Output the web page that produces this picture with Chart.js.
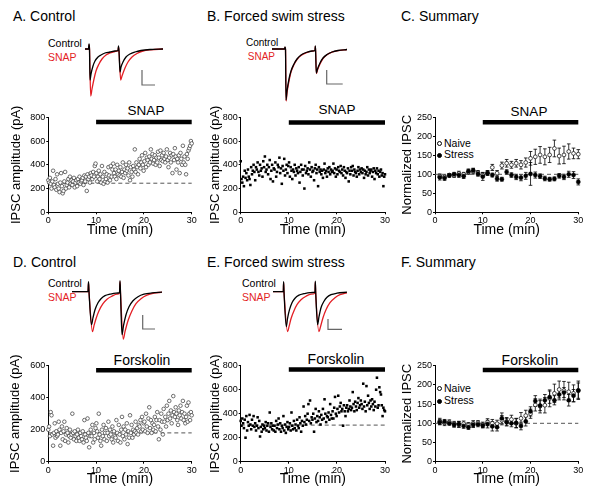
<!DOCTYPE html>
<html>
<head>
<meta charset="utf-8">
<script src="https://cdn.jsdelivr.net/npm/chart.js@4.4.1/dist/chart.umd.min.js"></script>
<style>
  body { margin: 0; background: #fff; width: 600px; height: 496px; position: relative; overflow: hidden;
         font-family: "Liberation Sans", Arial, sans-serif; }
  canvas { position: absolute; }
  .t { position: absolute; white-space: nowrap; line-height: 1; color: #000; }
  .title { font-size: 14px; }
  .small { font-size: 10.5px; }
  .red { color: #e31e24; }
  .drug { font-size: 13.5px; transform: translateX(-50%); }
  .sym { position: absolute; width: 3.2px; height: 3.2px; border-radius: 50%; border: 0.8px solid #000; }
</style>
</head>
<body>

<div class="t title" style="left:13px;top:9px">A. Control</div>
<div class="t title" style="left:207px;top:9px">B. Forced swim stress</div>
<div class="t title" style="left:401px;top:9px">C. Summary</div>
<div class="t title" style="left:13px;top:255px">D. Control</div>
<div class="t title" style="left:207px;top:255px">E. Forced swim stress</div>
<div class="t title" style="left:401px;top:255px">F. Summary</div>

<div class="t small" style="left:48px;top:38px">Control</div>
<div class="t small red" style="left:48px;top:51.5px">SNAP</div>
<div class="t small" style="left:246px;top:38px;width:30px;text-align:right;font-size:10px">Control</div>
<div class="t small red" style="left:246px;top:51.5px;width:29px;text-align:right;font-size:10px">SNAP</div>
<div class="t small" style="left:48px;top:278px">Control</div>
<div class="t small red" style="left:48px;top:291.5px">SNAP</div>
<div class="t small" style="left:242px;top:278px">Control</div>
<div class="t small red" style="left:242px;top:291.5px">SNAP</div>

<div class="t drug" style="left:146px;top:104px">SNAP</div>
<div class="t drug" style="left:337px;top:103px">SNAP</div>
<div class="t drug" style="left:529px;top:104.5px">SNAP</div>
<div class="t drug" style="left:142px;top:353px;font-size:14px">Forskolin</div>
<div class="t drug" style="left:336px;top:352px;font-size:14px">Forskolin</div>
<div class="t drug" style="left:530px;top:353px;font-size:14px">Forskolin</div>

<div class="sym" style="left:436.5px;top:141px;background:#fff"></div>
<div class="t small" style="left:444px;top:137.5px">Naive</div>
<div class="sym" style="left:436.5px;top:152.5px;background:#000"></div>
<div class="t small" style="left:444px;top:149px">Stress</div>
<div class="sym" style="left:436.5px;top:386px;background:#fff"></div>
<div class="t small" style="left:444px;top:382.5px">Naive</div>
<div class="sym" style="left:436.5px;top:398.5px;background:#000"></div>
<div class="t small" style="left:444px;top:395px">Stress</div>

<script>
// IPSC amplitudes (pA), six sweeps per minute over 30 min
const snapControlAmp = [
  270, 250, 290, 240, 200, 260, 350, 230, 210, 280, 190, 320,
  240, 200, 170, 250, 330, 220, 160, 180, 260, 340, 200, 230,
  250, 280, 210, 300, 240, 270, 230, 260, 290, 210, 250, 270,
  220, 280, 250, 300, 240, 260, 270, 290, 230, 310, 260, 300,
  180, 320, 280, 300, 250, 330, 310, 280, 340, 300, 390, 410,
  330, 260, 300, 350, 280, 320, 250, 390, 300, 240, 340, 260,
  280, 320, 250, 380, 310, 270, 390, 300, 360, 410, 330, 300,
  360, 280, 400, 320, 350, 310, 380, 300, 340, 420, 290, 360,
  330, 400, 350, 370, 310, 420, 270, 380, 340, 300, 390, 360,
  530, 340, 420, 380, 320, 400, 450, 370, 420, 480, 400, 350,
  430, 500, 380, 460, 440, 400, 470, 420, 530, 450, 490, 410,
  440, 480, 400, 460, 420, 510, 460, 390, 520, 440, 480, 430,
  500, 450, 420, 470, 530, 440, 380, 460, 500, 420, 480, 330,
  490, 440, 540, 470, 360, 450, 420, 480, 330, 500, 450, 400,
  560, 420, 470, 400, 320, 490, 450, 520, 540, 560, 600, 580
];
const snapStressAmp = [
  430, 280, 250, 300, 220, 350, 290, 330, 270, 360, 300, 280,
  230, 380, 320, 350, 400, 340, 270, 380, 360, 420, 340, 310,
  400, 350, 370, 300, 430, 380, 470, 340, 360, 400, 320, 380,
  440, 280, 350, 400, 260, 370, 360, 420, 300, 340, 400, 380,
  460, 330, 370, 240, 390, 350, 450, 310, 360, 400, 330, 390,
  420, 300, 380, 350, 280, 360, 340, 400, 310, 370, 350, 330,
  380, 250, 340, 400, 360, 310, 360, 200, 390, 330, 350, 370,
  320, 420, 360, 300, 380, 340, 350, 270, 370, 400, 330, 360,
  220, 380, 340, 360, 320, 350, 290, 360, 410, 330, 350, 300,
  370, 340, 380, 320, 360, 340, 350, 410, 330, 370, 300, 360,
  320, 380, 350, 340, 390, 330, 360, 310, 380, 350, 290, 340,
  330, 370, 260, 350, 320, 380, 350, 390, 310, 360, 340, 330,
  300, 350, 380, 320, 360, 340, 370, 330, 360, 290, 350, 320,
  340, 380, 310, 360, 330, 350, 360, 300, 340, 370, 280, 350,
  330, 370, 320, 350, 300, 340, 360, 310, 330, 220, 300, 320
];
const fskControlAmp = [
  200, 220, 160, 310, 290, 170, 100, 180, 240, 150, 190, 160,
  170, 250, 200, 100, 180, 220, 140, 190, 250, 130, 170, 210,
  180, 120, 160, 200, 150, 170, 300, 180, 140, 190, 160, 130,
  170, 200, 150, 130, 180, 160, 140, 190, 120, 260, 170, 150,
  130, 270, 180, 90, 160, 200, 160, 230, 120, 180, 140, 210,
  240, 190, 150, 300, 170, 130, 100, 200, 160, 230, 140, 180,
  210, 130, 180, 250, 160, 200, 170, 140, 220, 120, 190, 160,
  150, 260, 180, 130, 230, 170, 120, 200, 280, 160, 220, 140,
  200, 170, 240, 110, 190, 150, 290, 180, 230, 150, 200, 170,
  190, 250, 180, 210, 170, 230, 220, 260, 190, 280, 200, 240,
  250, 190, 300, 220, 180, 270, 340, 210, 260, 180, 240, 200,
  230, 280, 190, 260, 310, 220, 140, 260, 200, 300, 250, 170,
  330, 250, 280, 220, 350, 260, 300, 380, 270, 320, 240, 290,
  410, 310, 280, 340, 300, 260, 230, 320, 290, 350, 270, 310,
  380, 260, 300, 240, 280, 350, 250, 370, 300, 260, 310, 290
];
const fskStressAmp = [
  340, 300, 360, 320, 280, 350, 200, 380, 260, 330, 300, 390,
  310, 270, 350, 300, 380, 290, 320, 260, 300, 370, 280, 340,
  210, 290, 250, 310, 270, 300, 280, 330, 260, 300, 320, 250,
  410, 290, 320, 270, 300, 260, 300, 250, 340, 280, 310, 360,
  270, 320, 250, 300, 280, 380, 260, 310, 240, 290, 330, 270,
  290, 320, 260, 410, 300, 270, 340, 280, 310, 260, 350, 300,
  280, 370, 320, 250, 340, 300, 460, 330, 380, 310, 350, 400,
  480, 340, 510, 320, 370, 350, 400, 250, 360, 440, 330, 380,
  340, 420, 370, 310, 390, 350, 440, 360, 520, 400, 330, 380,
  370, 410, 350, 480, 390, 360, 420, 360, 450, 540, 400, 380,
  440, 550, 410, 460, 490, 420, 440, 300, 470, 420, 380, 450,
  470, 420, 440, 510, 460, 430, 450, 580, 480, 420, 500, 460,
  430, 490, 530, 450, 470, 510, 480, 440, 650, 460, 500, 420,
  630, 470, 550, 490, 440, 510, 460, 520, 480, 430, 500, 460,
  600, 700, 450, 470, 620, 580, 560, 470, 380, 450, 430, 420
];

// normalized IPSC (%), one value per minute
const summaryMinutes = [1, 2, 3, 4, 5, 6, 7, 8, 9, 10, 11, 12, 13, 14, 15,
                        16, 17, 18, 19, 20, 21, 22, 23, 24, 25, 26, 27, 28, 29, 30];
const snapNaiveMean = [95, 93, 98, 97, 102, 100, 106, 108, 104, 98, 104, 118, 103, 123, 129,
                       125, 129, 125, 131, 142, 146, 151, 146, 151, 168, 148, 151, 160, 155, 153];
const snapNaiveSem = [6, 5, 4, 5, 6, 5, 6, 7, 6, 7, 6, 8, 7, 9, 10,
                      9, 10, 11, 12, 18, 20, 22, 21, 20, 22, 21, 23, 20, 14, 12];
const snapStressMean = [92, 90, 97, 100, 98, 95, 108, 110, 101, 94, 103, 98, 88, 87, 106,
                        98, 93, 91, 96, 101, 98, 95, 89, 87, 88, 96, 93, 100, 98, 80];
const snapStressSem = [7, 6, 5, 5, 6, 6, 6, 6, 6, 10, 6, 5, 6, 5, 6,
                       6, 7, 8, 9, 30, 8, 6, 6, 5, 5, 6, 7, 8, 9, 8];
const fskNaiveMean = [105, 101, 103, 98, 97, 99, 95, 99, 101, 96, 103, 100, 99, 108, 105,
                      110, 100, 113, 120, 125, 148, 145, 147, 165, 178, 188, 185, 182, 178, 186];
const fskNaiveSem = [8, 7, 6, 7, 8, 7, 7, 8, 6, 7, 9, 10, 9, 12, 10,
                     11, 12, 15, 14, 12, 16, 18, 20, 22, 24, 22, 24, 25, 22, 24];
const fskStressMean = [103, 104, 100, 96, 98, 93, 90, 96, 97, 94, 98, 92, 90, 113, 103,
                       100, 101, 93, 105, 131, 158, 146, 160, 168, 160, 175, 180, 160, 172, 185];
const fskStressSem = [7, 6, 5, 6, 7, 6, 6, 7, 6, 6, 10, 12, 10, 14, 10,
                      9, 12, 10, 12, 12, 14, 13, 15, 16, 12, 14, 13, 15, 16, 20];

// example traces, [ms, pA]
const traceAControl = [[0,0],[3.5,0],[4,50],[4.5,0],[5,-310],[6,-250],[8,-170],[10,-120],[13,-80],[16,-60],[20,-40],[25,-30],[30,-20],[33,-15],[33.5,30],[34,-20],[35,-230],[36,-180],[38,-130],[41,-80],[45,-50],[50,-30],[56,-15],[65,-5],[78,0]];
const traceASnap = [[0,0],[3.5,0],[4,40],[4.5,0],[5.7,-470],[7,-400],[9,-300],[11,-220],[14,-150],[17,-100],[21,-60],[25,-40],[30,-25],[33,-15],[33.5,20],[34,-20],[35.7,-310],[37,-270],[40,-190],[43,-130],[47,-80],[52,-45],[58,-20],[66,-8],[78,0]];
const traceBControl = [[0,0],[12.5,0],[13,20],[13.5,0],[14,-510],[15,-420],[17,-300],[19,-220],[22,-150],[25,-100],[29,-60],[34,-35],[40,-20],[43,-15],[43.3,30],[43.6,-15],[44.3,-240],[45.5,-200],[48,-140],[51,-90],[55,-55],[60,-30],[66,-15],[75,-5]];
const traceBSnap = [[0,0],[12.5,0],[13,15],[13.5,0],[14.1,-520],[15,-440],[17,-320],[19,-230],[22,-155],[25,-105],[29,-65],[34,-38],[40,-22],[43,-15],[43.3,25],[43.6,-15],[44.4,-245],[45.5,-210],[48,-150],[51,-95],[55,-58],[60,-32],[66,-16],[75,-5]];
const traceDControl = [[0,0],[16,0],[16.5,100],[17,0],[19.5,-330],[21,-260],[23,-180],[26,-110],[29,-70],[33,-40],[38,-25],[44,-15],[47.5,-10],[48,110],[48.5,-10],[50,-430],[51.5,-340],[54,-230],[57,-150],[61,-90],[66,-50],[72,-25],[80,-12],[90,-5]];
const traceDSnap = [[0,0],[16,0],[16.5,90],[17,0],[20.5,-400],[22,-340],[24,-270],[27,-190],[31,-120],[35,-75],[40,-45],[45,-25],[47.5,-15],[48,100],[48.5,-15],[51.3,-475],[53,-400],[56,-290],[60,-190],[64,-120],[69,-70],[75,-35],[82,-15],[90,-5]];
const traceEControl = [[0,0],[10.3,0],[10.6,100],[11,0],[13.3,-350],[14.5,-270],[16.5,-180],[19,-110],[22,-65],[26,-35],[31,-20],[37,-10],[42,-5],[42.3,105],[42.7,-5],[44.6,-330],[46,-250],[48,-160],[51,-95],[54,-55],[58,-30],[64,-15],[74,-5]];
const traceESnap = [[0,0],[10.3,0],[10.6,90],[11,0],[14.6,-400],[16,-350],[18,-270],[21,-190],[24,-130],[28,-80],[33,-45],[38,-25],[42,-15],[42.3,95],[42.7,-15],[46,-400],[47.5,-350],[50,-260],[53,-180],[57,-110],[62,-60],[67,-30],[74,-10]];
// scale bars, [ms, pA]
const scaleBarA = [[70,-360],[57,-360],[57,-210]];
const scaleBarB = [[70.7,-350],[54.7,-350],[54.7,-210]];
const scaleBarD = [[83,-373],[70.7,-373],[70.7,-233]];
const scaleBarE = [[69,-376],[55,-376],[55,-273]];

const RED = '#e31e24';
Chart.defaults.font.family = '"Liberation Sans", Arial, sans-serif';
Chart.defaults.color = '#000';

function sweepPoints(values) {
    // sweeps evenly spread over the 30 min recording
    return values.map((v, i) => ({ x: i * 30 / (values.length - 1), y: v }));
}
function minutePoints(values) {
    return values.map((v, i) => ({ x: summaryMinutes[i], y: v }));
}
function pairPoints(pairs) {
    return pairs.map(p => ({ x: p[0], y: p[1] }));
}

const errorBarPlugin = {
    id: 'errorBars',
    beforeDatasetsDraw(chart) {
        const ctx = chart.ctx;
        const xs = chart.scales.x, ys = chart.scales.y;
        chart.data.datasets.forEach(ds => {
            if (!ds.errorBars) return;
            ctx.save();
            ctx.strokeStyle = '#000';
            ctx.lineWidth = 0.8;
            ds.data.forEach((p, i) => {
                const e = ds.errorBars[i];
                const px = xs.getPixelForValue(p.x);
                const top = ys.getPixelForValue(p.y + e);
                const bot = ys.getPixelForValue(p.y - e);
                ctx.beginPath();
                ctx.moveTo(px, top); ctx.lineTo(px, bot);
                ctx.moveTo(px - 1.8, top); ctx.lineTo(px + 1.8, top);
                ctx.moveTo(px - 1.8, bot); ctx.lineTo(px + 1.8, bot);
                ctx.stroke();
            });
            ctx.restore();
        });
    }
};

function addCanvas(left, top, width, height) {
    const c = document.createElement('canvas');
    c.width = width;
    c.height = height;
    c.style.left = left + 'px';
    c.style.top = top + 'px';
    document.body.appendChild(c);
    return c;
}

function lineSet(y, level, width, dash) {
    return {
        data: [{ x: y[0], y: level }, { x: y[1], y: level }],
        showLine: true, pointRadius: 0, borderColor: dash ? '#555' : '#000',
        borderWidth: width, borderDash: dash || [], borderCapStyle: 'butt', clip: false, order: 5
    };
}

function makePanel(p) {
    const canvas = addCanvas(p.left, p.top, p.width, p.height);
    const area = p.area;
    const yW = area.l - p.left;
    const xH = p.top + p.height - area.b;
    const axisGrid = { drawOnChartArea: false, drawTicks: true, tickLength: 2, color: '#000', lineWidth: 1 };
    new Chart(canvas, {
        type: 'scatter',
        data: { datasets: p.datasets },
        options: {
            responsive: false,
            animation: false,
            events: [],
            layout: { padding: { left: 0, top: area.t - p.top, right: p.left + p.width - area.r, bottom: 0 } },
            plugins: { legend: { display: false }, tooltip: { enabled: false } },
            scales: {
                x: {
                    type: 'linear', min: 0, max: 30,
                    afterFit: s => { s.height = xH; },
                    ticks: { stepSize: 10, font: { size: 9 }, padding: 1, maxRotation: 0 },
                    grid: axisGrid,
                    border: { color: '#000', width: 1 },
                    title: { display: true, text: 'Time (min)', font: { size: 14 }, padding: { top: 0, bottom: p.xTitlePad } }
                },
                y: {
                    min: 0, max: p.yMax,
                    afterFit: s => { s.width = yW; },
                    ticks: { stepSize: p.yStep, font: { size: 9 }, padding: 1 },
                    grid: axisGrid,
                    border: { color: '#000', width: 1 },
                    title: { display: true, text: p.yTitle, font: { size: 13 }, padding: { top: p.yTitlePad, bottom: 0 } }
                }
            }
        },
        plugins: [errorBarPlugin]
    });
}

function makeTrace(t) {
    const canvas = addCanvas(t.left, t.top, t.width, t.height);
    const trace = (pairs, color) => ({
        data: pairPoints(pairs), showLine: true, pointRadius: 0, borderColor: color,
        borderWidth: 1.3, cubicInterpolationMode: 'monotone', clip: false
    });
    new Chart(canvas, {
        type: 'scatter',
        data: {
            datasets: [
                trace(t.control, '#000'),
                trace(t.snap, RED),
                { data: pairPoints(t.bar), showLine: true, pointRadius: 0, borderColor: '#666', borderWidth: 1.2, clip: false }
            ]
        },
        options: {
            responsive: false, animation: false, events: [],
            layout: { padding: 0 },
            plugins: { legend: { display: false }, tooltip: { enabled: false } },
            scales: {
                x: { type: 'linear', display: false, min: 0, max: t.xMax },
                y: { display: false, min: t.yMin, max: t.yMax }
            }
        }
    });
}

const openCircle = { pointStyle: 'circle', pointRadius: 1.8, pointBackgroundColor: '#fff', pointBorderColor: '#333', pointBorderWidth: 0.7, clip: false, order: 1 };
const filledSquare = { pointStyle: 'rect', pointRadius: 1.8, pointBackgroundColor: '#000', pointBorderWidth: 0, clip: false, order: 1 };
const naiveStyle = { pointStyle: 'circle', pointRadius: 1.9, pointBackgroundColor: '#fff', pointBorderColor: '#000', pointBorderWidth: 0.7, clip: false, order: 2 };
const stressStyle = { pointStyle: 'circle', pointRadius: 2.1, pointBackgroundColor: '#000', pointBorderColor: '#000', pointBorderWidth: 0.4, clip: false, order: 1 };

// A. Control, SNAP
makePanel({
    left: 0, top: 95, width: 200, height: 150,
    area: { l: 48.3, r: 191.7, t: 117.3, b: 212.3 },
    yMax: 800, yStep: 200, yTitle: 'IPSC amplitude (pA)', yTitlePad: 8.5, xTitlePad: 6.6,
    datasets: [
        lineSet([10, 30], 760, 4.5),
        lineSet([0, 30], 245, 1, [4, 3]),
        Object.assign({ data: sweepPoints(snapControlAmp) }, openCircle)
    ]
});
// B. Forced swim stress, SNAP
makePanel({
    left: 200, top: 95, width: 200, height: 150,
    area: { l: 240.7, r: 385, t: 117.3, b: 212.3 },
    yMax: 800, yStep: 200, yTitle: 'IPSC amplitude (pA)', yTitlePad: 7.2, xTitlePad: 6.6,
    datasets: [
        lineSet([10, 30], 757, 4.5),
        Object.assign({ data: sweepPoints(snapStressAmp) }, filledSquare)
    ]
});
// C. Summary, SNAP
makePanel({
    left: 390, top: 95, width: 210, height: 150,
    area: { l: 435, r: 578.3, t: 117.3, b: 212.3 },
    yMax: 250, yStep: 50, yTitle: 'Normalized IPSC', yTitlePad: 9.7, xTitlePad: 6.6,
    datasets: [
        lineSet([10, 30], 237, 4.5),
        lineSet([0, 30], 100, 1, [4, 3]),
        Object.assign({ data: minutePoints(snapNaiveMean), errorBars: snapNaiveSem }, naiveStyle),
        Object.assign({ data: minutePoints(snapStressMean), errorBars: snapStressSem }, stressStyle)
    ]
});
// D. Control, Forskolin
makePanel({
    left: 0, top: 345, width: 200, height: 150,
    area: { l: 48.3, r: 191.7, t: 365.7, b: 461.7 },
    yMax: 600, yStep: 200, yTitle: 'IPSC amplitude (pA)', yTitlePad: 7.5, xTitlePad: 7.1,
    datasets: [
        lineSet([10, 30], 571, 4.5),
        lineSet([0, 30], 180, 1, [4, 3]),
        Object.assign({ data: sweepPoints(fskControlAmp) }, openCircle)
    ]
});
// E. Forced swim stress, Forskolin
makePanel({
    left: 200, top: 345, width: 200, height: 150,
    area: { l: 240.7, r: 385, t: 365.7, b: 461.7 },
    yMax: 800, yStep: 200, yTitle: 'IPSC amplitude (pA)', yTitlePad: 7.2, xTitlePad: 7.1,
    datasets: [
        lineSet([10, 30], 768, 4.5),
        lineSet([0, 30], 305, 1, [4, 3]),
        Object.assign({ data: sweepPoints(fskStressAmp) }, filledSquare)
    ]
});
// F. Summary, Forskolin
makePanel({
    left: 390, top: 345, width: 210, height: 150,
    area: { l: 435, r: 578.3, t: 365.7, b: 461.7 },
    yMax: 250, yStep: 50, yTitle: 'Normalized IPSC', yTitlePad: 9.7, xTitlePad: 7.1,
    datasets: [
        lineSet([10, 30], 239, 4.5),
        lineSet([0, 30], 100, 1, [4, 3]),
        Object.assign({ data: minutePoints(fskNaiveMean), errorBars: fskNaiveSem }, naiveStyle),
        Object.assign({ data: minutePoints(fskStressMean), errorBars: fskStressSem }, stressStyle)
    ]
});

makeTrace({ left: 85, top: 40, width: 78, height: 60, xMax: 78, yMin: -510, yMax: 90,
            control: traceAControl, snap: traceASnap, bar: scaleBarA });
makeTrace({ left: 272, top: 40, width: 75, height: 65, xMax: 75, yMin: -560, yMax: 90,
            control: traceBControl, snap: traceBSnap, bar: scaleBarB });
makeTrace({ left: 72, top: 276, width: 90, height: 66, xMax: 90, yMin: -503, yMax: 157,
            control: traceDControl, snap: traceDSnap, bar: scaleBarD });
makeTrace({ left: 273, top: 276, width: 74, height: 66, xMax: 74, yMin: -503, yMax: 157,
            control: traceEControl, snap: traceESnap, bar: scaleBarE });
</script>
</body>
</html>
